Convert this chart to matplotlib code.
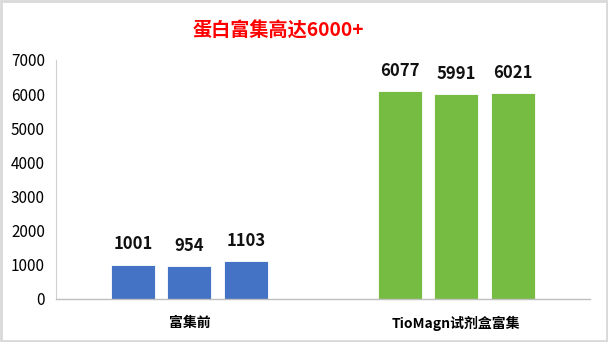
import matplotlib
matplotlib.use("Agg")
import matplotlib.pyplot as plt
from matplotlib.patches import Rectangle
import numpy as np

plt.rcParams['font.family'] = ['Noto Sans CJK SC', 'DejaVu Sans']

groups = ["富集前", "TioMagn试剂盒富集"]
before = [1001, 954, 1103]
after = [6077, 5991, 6021]
values = [before, after]
colors = ["#4472C4", "#76BC43"]
y_ticks = [0, 1000, 2000, 3000, 4000, 5000, 6000, 7000]

fig = plt.figure(figsize=(6.08, 3.42), dpi=100)
ax = fig.add_axes([0.092, 0.126, 0.878, 0.699])

width = 0.165
offsets = [-0.212, 0, 0.212]
for gi, vals in enumerate(values):
    for k, v in enumerate(vals):
        x = gi + offsets[k]
        ax.bar(x, v, width=width, color=colors[gi], edgecolor="white", linewidth=0.6)
        ax.text(x, v + 340, str(v), ha="center", va="bottom",
                fontsize=12, fontweight="bold", color="#111111")

ax.set_xlim(-0.5, 1.5)
ax.set_ylim(0, 7000)
ax.set_yticks(y_ticks)
ax.set_yticklabels([str(t) for t in y_ticks], fontsize=11, fontweight="medium")
ax.set_xticks([0, 1])
ax.set_xticklabels(groups, fontsize=10, fontweight="bold")
ax.tick_params(length=0, pad=8)
ax.tick_params(axis="x", pad=12)
for s in ["top", "right"]:
    ax.spines[s].set_visible(False)
ax.spines["left"].set_color("#d0d0d0")
ax.spines["bottom"].set_color("#bfbfbf")
ax.spines["left"].set_linewidth(0.8)
ax.spines["bottom"].set_linewidth(1.0)

fig.text(0.457, 0.91, "蛋白富集高达6000+", ha="center", va="center",
         fontsize=13.8, fontweight="bold", color="#ff0000")

fig.patches.append(Rectangle((0.002, 0.003), 0.996, 0.994, transform=fig.transFigure,
                             fill=False, edgecolor="#d9d9d9", linewidth=2))

fig.savefig("out.png", dpi=100)
